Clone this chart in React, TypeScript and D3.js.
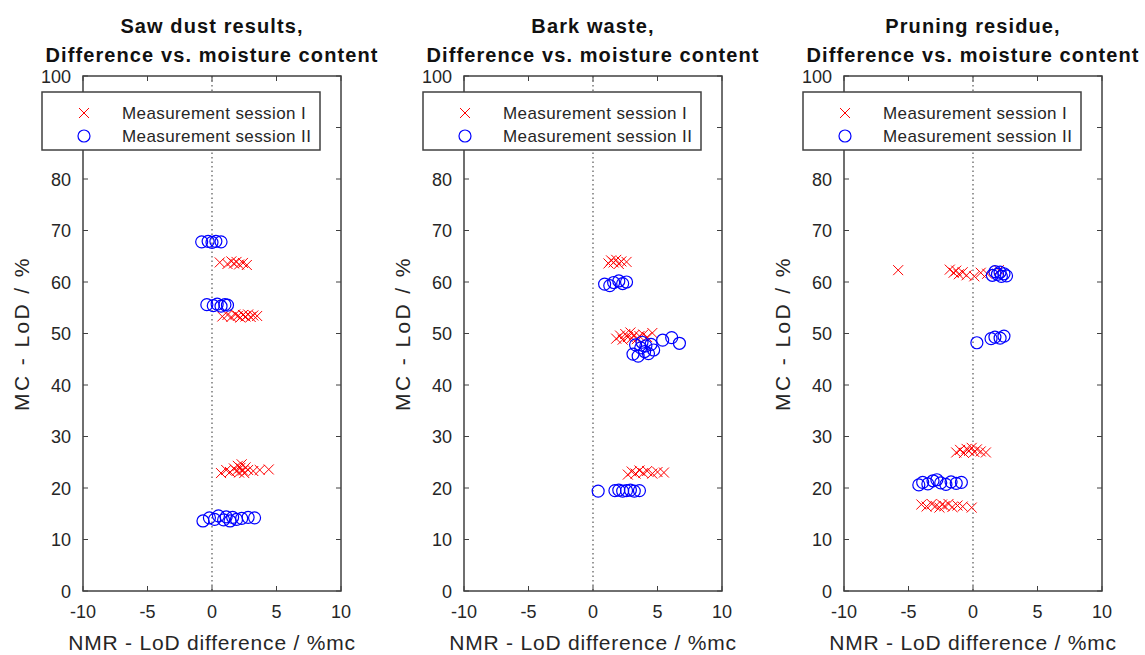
import React from "react";
import * as d3 from "d3";

type Pt = [number, number];

// session I = crosses, session II = circles
const sawSession1: Pt[] = [
  [0.6, 63.8], [1.2, 63.5], [1.5, 64.0], [1.7, 63.6], [1.9, 63.9], [2.1, 63.4], [2.4, 63.7], [2.7, 63.3],
  [0.8, 53.3], [1.2, 53.6], [1.5, 53.2], [1.8, 53.7], [2.0, 53.4], [2.2, 53.1], [2.4, 53.6], [2.6, 53.3],
  [2.8, 53.7], [3.0, 53.2], [3.2, 53.5], [3.5, 53.4],
  [0.7, 22.9], [1.1, 23.5], [1.4, 23.1], [1.7, 23.8], [1.9, 23.3], [2.0, 24.3], [2.1, 23.0], [2.2, 23.9],
  [2.3, 24.6], [2.4, 23.4], [2.5, 22.9], [2.6, 24.0], [2.8, 23.5], [3.2, 23.3], [3.7, 23.5], [4.4, 23.6],
];
const sawSession2: Pt[] = [
  [-0.8, 67.8], [-0.3, 67.9], [0.0, 67.7], [0.3, 67.9], [0.7, 67.8],
  [-0.4, 55.6], [0.1, 55.4], [0.4, 55.7], [0.7, 55.3], [1.0, 55.6], [1.2, 55.5],
  [-0.7, 13.6], [-0.2, 14.2], [0.2, 13.9], [0.5, 14.6], [0.9, 13.8], [1.1, 14.4], [1.4, 13.6], [1.6, 14.3],
  [1.9, 13.9], [2.3, 14.1], [2.8, 14.3], [3.3, 14.2],
];

const barkSession1: Pt[] = [
  [1.2, 63.6], [1.4, 64.2], [1.6, 63.8], [1.8, 64.3], [2.0, 63.5], [2.2, 64.0], [2.6, 63.9],
  [1.8, 49.0], [2.1, 49.6], [2.3, 48.8], [2.5, 49.9], [2.7, 49.3], [2.9, 50.2], [3.0, 49.1], [3.2, 49.7],
  [3.4, 48.9], [3.6, 49.5], [3.9, 49.8], [4.2, 49.3], [4.6, 50.1],
  [2.7, 22.6], [3.0, 23.2], [3.3, 22.8], [3.6, 23.4], [3.9, 22.9], [4.2, 23.3], [4.6, 22.8], [5.0, 23.1], [5.5, 23.0],
];
const barkSession2: Pt[] = [
  [0.9, 59.6], [1.3, 59.3], [1.6, 59.9], [2.0, 60.2], [2.3, 59.7], [2.6, 60.0],
  [3.1, 46.0], [3.3, 47.8], [3.5, 45.6], [3.7, 47.2], [3.8, 48.3], [4.0, 46.5], [4.1, 47.6], [4.3, 46.1],
  [4.5, 47.9], [4.7, 46.8], [5.4, 48.7], [6.1, 49.2], [6.7, 48.1],
  [0.4, 19.4], [1.7, 19.5], [2.0, 19.6], [2.3, 19.4], [2.6, 19.5], [2.9, 19.6], [3.2, 19.4], [3.6, 19.5],
];

const pruneSession1: Pt[] = [
  [-5.8, 62.3], [-1.8, 62.4], [-1.5, 61.8], [-1.3, 62.2], [-1.1, 61.5], [-0.8, 61.9], [-0.5, 61.3],
  [0.1, 61.1], [0.6, 61.8], [1.1, 61.6], [2.0, 62.3],
  [-1.3, 26.9], [-1.0, 27.4], [-0.7, 26.8], [-0.5, 27.6], [-0.3, 27.2], [-0.1, 27.8], [0.1, 27.0],
  [0.3, 27.5], [0.6, 27.1], [1.0, 26.9],
  [-4.0, 16.8], [-3.6, 16.4], [-3.2, 16.9], [-2.9, 16.5], [-2.6, 16.2], [-2.4, 16.8], [-2.2, 16.5],
  [-1.9, 16.9], [-1.6, 16.3], [-1.2, 16.6], [-0.8, 16.4], [-0.1, 16.2],
];
const pruneSession2: Pt[] = [
  [1.5, 61.3], [1.7, 62.0], [1.9, 61.5], [2.1, 61.9], [2.2, 61.1], [2.4, 61.6], [2.6, 61.2],
  [0.3, 48.2], [1.4, 49.0], [1.7, 49.3], [2.1, 49.1], [2.4, 49.5],
  [-4.2, 20.6], [-3.9, 21.1], [-3.5, 20.8], [-3.1, 21.4], [-2.8, 21.6], [-2.5, 21.0], [-2.1, 20.7],
  [-1.7, 21.2], [-1.3, 20.9], [-0.9, 21.1],
];

const xTicks = [-10, -5, 0, 5, 10];
const yTicks = [0, 10, 20, 30, 40, 50, 60, 70, 80, 90, 100];
const legendLabels = ["Measurement session I", "Measurement session II"];
const titles = [
  ["Saw dust results,", "Difference vs. moisture content"],
  ["Bark waste,", "Difference vs. moisture content"],
  ["Pruning residue,", "Difference vs. moisture content"],
];
const panelData: [Pt[], Pt[]][] = [
  [sawSession1, sawSession2],
  [barkSession1, barkSession2],
  [pruneSession1, pruneSession2],
];
const panelLefts = [83, 464, 844];

const FONT = "'Liberation Sans', Arial, Helvetica, sans-serif";
const AX = "#404040";
const TXT = "#262626";

const Panel = ({ idx }: { idx: number }) => {
  const left = panelLefts[idx];
  const w = 258;
  const top = 76;
  const h = 515;
  const x = d3.scaleLinear().domain([-10, 10]).range([0, w]);
  const y = d3.scaleLinear().domain([0, 100]).range([h, 0]);
  const [s1, s2] = panelData[idx];
  const cs = 5;
  return (
    <g transform={`translate(${left},${top})`} fontFamily={FONT}>
      <line x1={x(0)} x2={x(0)} y1={0} y2={h} stroke="#555" strokeWidth={1.2} strokeDasharray="1.5,3" />
      {s1.map((d, i) => (
        <g key={"a" + i} stroke="#ff0000" strokeWidth={1}>
          <line x1={x(d[0]) - cs} x2={x(d[0]) + cs} y1={y(d[1]) - cs} y2={y(d[1]) + cs} />
          <line x1={x(d[0]) - cs} x2={x(d[0]) + cs} y1={y(d[1]) + cs} y2={y(d[1]) - cs} />
        </g>
      ))}
      {s2.map((d, i) => (
        <circle key={"b" + i} cx={x(d[0])} cy={y(d[1])} r={6} fill="none" stroke="#0000ff" strokeWidth={1.2} />
      ))}
      <rect x={0} y={0} width={w} height={h} fill="none" stroke={AX} strokeWidth={1.5} />
      {xTicks.map((t) => (
        <g key={"x" + t}>
          <line x1={x(t)} x2={x(t)} y1={h} y2={h - 5} stroke={AX} />
          <line x1={x(t)} x2={x(t)} y1={0} y2={5} stroke={AX} />
          <text x={x(t)} y={h + 27} textAnchor="middle" fontSize={18} fill={TXT}>{t}</text>
        </g>
      ))}
      {yTicks.map((t) => (
        <g key={"y" + t}>
          <line x1={0} x2={5} y1={y(t)} y2={y(t)} stroke={AX} />
          <line x1={w} x2={w - 5} y1={y(t)} y2={y(t)} stroke={AX} />
          <text x={-12} y={y(t) + 6.5} textAnchor="end" fontSize={18} fill={TXT}>{t}</text>
        </g>
      ))}
      <text x={w / 2} y={h + 59} textAnchor="middle" fontSize={21} letterSpacing={0.8} fill={TXT}>NMR - LoD difference / %mc</text>
      <text transform={`translate(${-54},${h / 2}) rotate(-90)`} textAnchor="middle" fontSize={21} letterSpacing={2.4} fill={TXT}>MC - LoD / %</text>
      <text x={w / 2} y={-43} textAnchor="middle" fontSize={20} fontWeight="bold" letterSpacing={1.1} fill="#111">{titles[idx][0]}</text>
      <text x={w / 2} y={-14} textAnchor="middle" fontSize={20} fontWeight="bold" letterSpacing={1.1} fill="#111">{titles[idx][1]}</text>
      <g transform={`translate(${-41},${16})`}>
        <rect x={0} y={0} width={278} height={58} fill="#fff" stroke={AX} strokeWidth={1.5} />
        <line x1={37} x2={47} y1={16} y2={26} stroke="#ff0000" />
        <line x1={37} x2={47} y1={26} y2={16} stroke="#ff0000" />
        <circle cx={42} cy={44} r={6} fill="none" stroke="#0000ff" strokeWidth={1.2} />
        <text x={80} y={27} fontSize={17} letterSpacing={0.4} fill={TXT}>{legendLabels[0]}</text>
        <text x={80} y={50} fontSize={17} letterSpacing={0.4} fill={TXT}>{legendLabels[1]}</text>
      </g>
    </g>
  );
};

export default function App() {
  return (
    <div style={{ position: "absolute", left: 0, top: 0 }}>
      <svg width={1145} height={655} style={{ display: "block", background: "#fff" }}>
        {[0, 1, 2].map((i) => (
          <Panel key={i} idx={i} />
        ))}
      </svg>
    </div>
  );
}
